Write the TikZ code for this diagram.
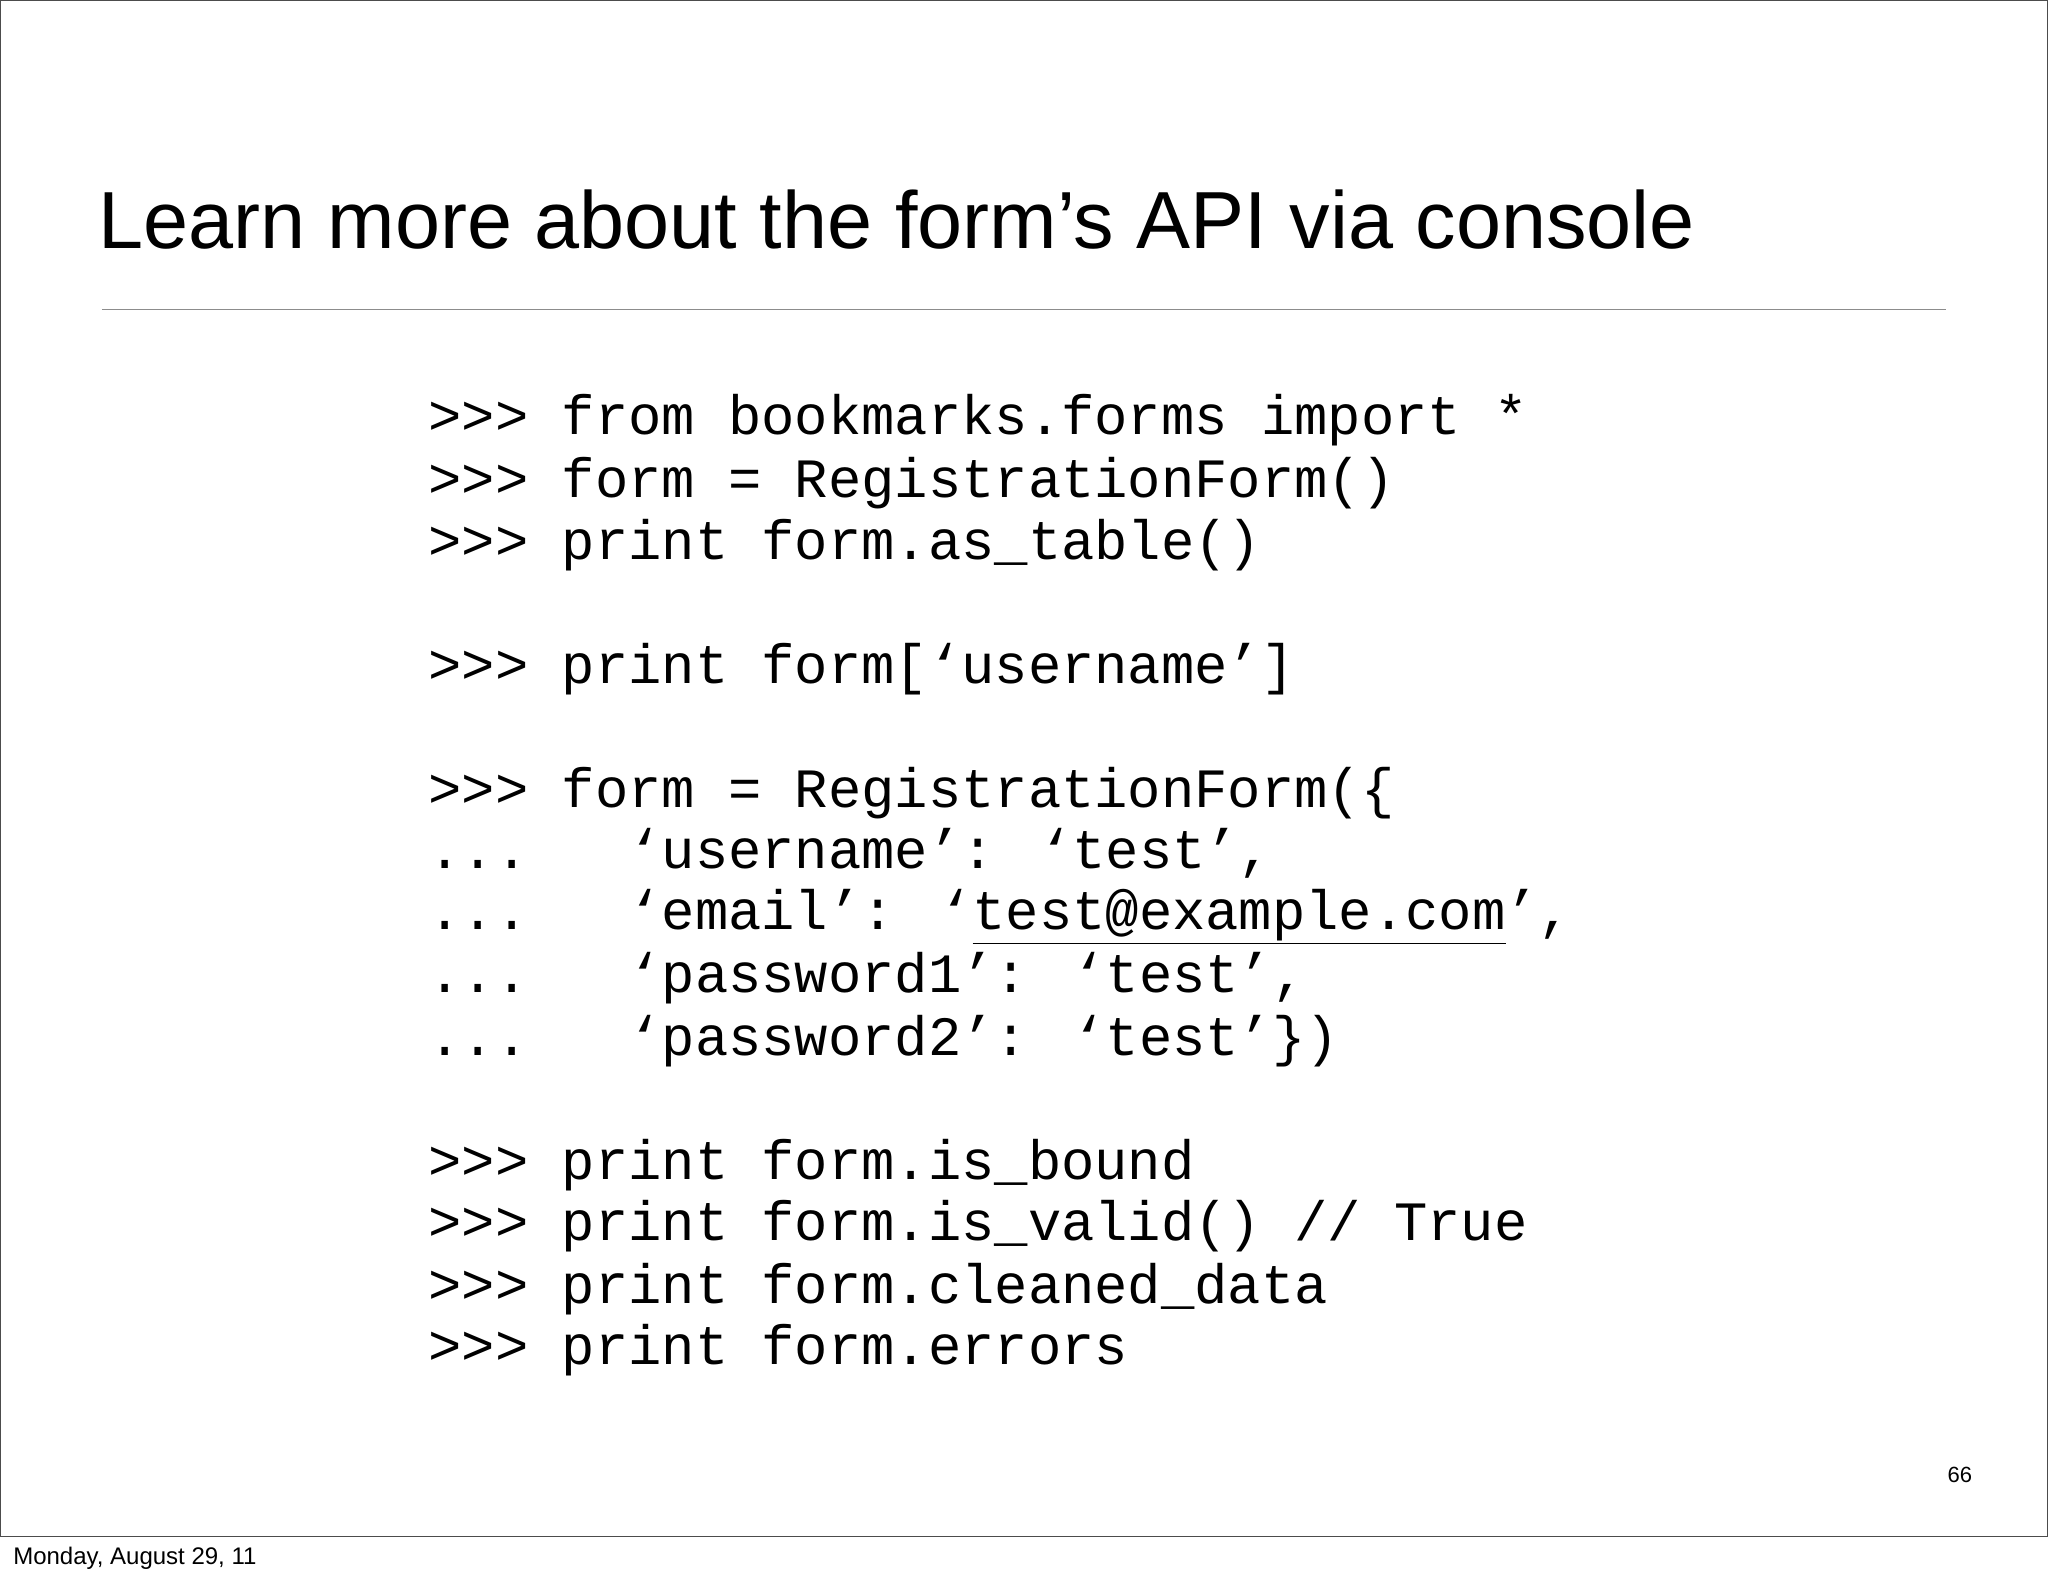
\documentclass[tikz,border=0pt]{standalone}
\usepackage{fontspec}
\setmainfont{Liberation Sans}
\newfontfamily\codefont[WordSpace={1,0,0}]{Liberation Mono}
\begin{document}
\begin{tikzpicture}[x=1.3061pt,y=-1.3061pt,
  code/.style={anchor=base west,inner sep=0,font=\codefont\fontsize{55.5}{60}\selectfont}]
\useasboundingbox (0,0) rectangle (1568,1206);
\fill[white] (0,0) rectangle (1568,1206);
\draw[black!70,line width=1pt] (0.5,0.5) rectangle (1567.5,1176);
\node[anchor=base west,inner sep=0,font=\fontsize{81}{86}\selectfont] (title) at (75,190) {Learn more about the form’s API via console};
\coordinate (l1) at (78,237); \coordinate (l2) at (1490,237);
\draw[black!45,line width=1pt] (l1) -- (l2);
\node[code] (c1) at (328,333) {>>> from bookmarks.forms import *};
\node[code] (c2) at (328,381) {>>> form = RegistrationForm()};
\node[code] (c3) at (328,428) {>>> print form.as\_table()};
\node[code] (c5) at (328,523) {>>> print form[‘username’]};
\node[code] (c7) at (328,618) {>>> form = RegistrationForm(\{};
\node[code] (c8) at (328,665) {...\ \ \ ‘username’: ‘test’,};
\node[code] (c9) at (328,712) {...\ \ \ ‘email’: ‘\underline{test@example.com}’,};
\node[code] (c10) at (328,760) {...\ \ \ ‘password1’: ‘test’,};
\node[code] (c11) at (328,808) {...\ \ \ ‘password2’: ‘test’\})};
\node[code] (c13) at (328,903) {>>> print form.is\_bound};
\node[code] (c14) at (328,950) {>>> print form.is\_valid() // True};
\node[code] (c15) at (328,998) {>>> print form.cleaned\_data};
\node[code] (c16) at (328,1045) {>>> print form.errors};
\node[anchor=base east,inner sep=0,font=\fontsize{22}{26}\selectfont] (pg) at (1510,1135) {66};
\node[anchor=base west,inner sep=0,font=\fontsize{24}{28}\selectfont] (foot) at (10,1198) {Monday, August 29, 11};
\end{tikzpicture}
\end{document}
